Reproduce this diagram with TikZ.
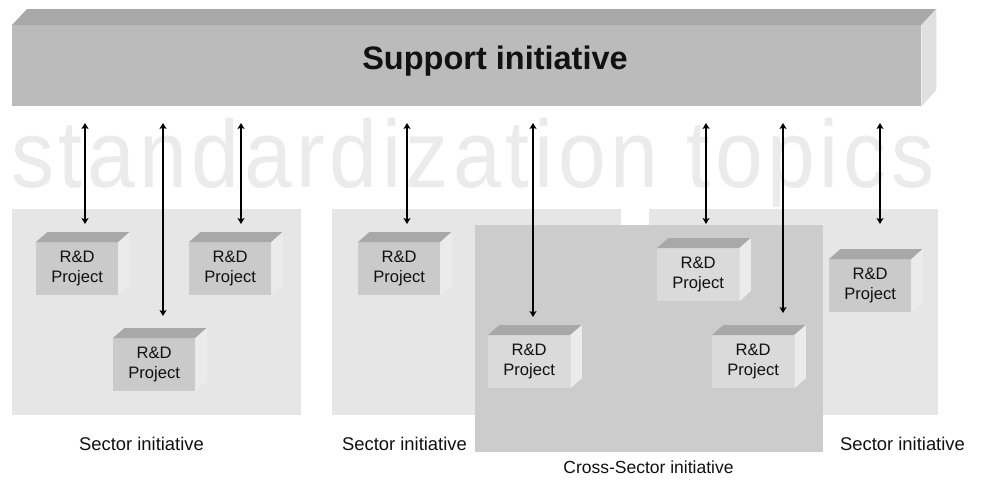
\documentclass[tikz,border=0pt]{standalone}
\usepackage{fontspec}
\setmainfont{Liberation Sans}
\newfontfamily\topicfont[FakeStretch=0.9,LetterSpace=4.8]{Liberation Sans}
\usetikzlibrary{arrows.meta}

\definecolor{barfront}{HTML}{BBBBBB}
\definecolor{bartop}{HTML}{A8A8A8}
\definecolor{barside}{HTML}{E0E0E0}
\definecolor{sectorbg}{HTML}{E6E6E6}
\definecolor{crossbg}{HTML}{CCCCCC}
\definecolor{cubefront}{HTML}{CACACA}
\definecolor{cubefrontlight}{HTML}{DADADA}
\definecolor{cubetop}{HTML}{A8A8A8}
\definecolor{cubeside}{HTML}{EBEBEB}
\definecolor{topicgray}{HTML}{EBEBEB}
\definecolor{ink}{HTML}{111111}

% one R&D cube: name, x, y of the front face's top-left corner, front colour
\newcommand\projcube[4]{%
  \node[projbox, fill=#4] (#1) at (#2,#3) {R\&D\\Project};
  \fill[cubetop] (#1.north west) -- ++(11.5,-10) -- ++(82,0) -- (#1.north east) -- cycle;
  \fill[cubeside] (#1.north east) -- ++(11.5,-10) -- ++(0,53) -- (#1.south east) -- cycle;
}

\begin{document}
\begin{tikzpicture}[x=1pt,y=-1pt,
  projbox/.style={anchor=north west, minimum width=82pt, minimum height=53pt,
    inner sep=0pt, align=center, text=ink, font=\fontsize{16.6}{20.5}\selectfont},
  area/.style={anchor=north west, inner sep=0pt},
  dblarrow/.style={line width=2pt,
    {Stealth[length=6pt,width=7pt,inset=1.5pt]}-{Stealth[length=6pt,width=7pt,inset=1.5pt]}},
  sectorlabel/.style={anchor=base, inner sep=0pt, text=ink, font=\fontsize{18.4}{22}\selectfont}
]
\useasboundingbox[fill=white] (0,0) rectangle (981,479);

% large background caption
\node[anchor=base west, inner sep=0pt, text=topicgray,
      font=\topicfont\fontsize{95.5}{96}\selectfont] (topics) at (11,187) {standardization topics};

% support initiative bar with its top and side faces
\node[area, minimum width=909pt, minimum height=81pt, fill=barfront] (bar) at (12,25) {};
\fill[bartop] (bar.north west) -- ++(15,-16) -- ++(909,0) -- (bar.north east) -- cycle;
\fill[barside] (bar.north east) -- ++(15,-16) -- ++(0,81) -- (bar.south east) -- cycle;
\node[anchor=base, inner sep=0pt, text=ink, font=\bfseries\fontsize{32.5}{39}\selectfont]
  (title) at (495,69) {Support initiative};

% sector areas and the cross-sector area
\node[area, minimum width=289pt, minimum height=206pt, fill=sectorbg] (s1) at (12,209) {};
\node[area, minimum width=289pt, minimum height=206pt, fill=sectorbg] (s2) at (332,209) {};
\node[area, minimum width=289pt, minimum height=206pt, fill=sectorbg] (s3) at (649,209) {};
\node[area, minimum width=348pt, minimum height=227pt, fill=crossbg] (cross) at (475,225) {};

% R&D projects
\projcube{p1}{36}{242}{cubefront}
\projcube{p2}{189}{242}{cubefront}
\projcube{p3}{113}{338}{cubefront}
\projcube{p4}{358}{242}{cubefront}
\projcube{c1}{488}{335}{cubefrontlight}
\projcube{c2}{657}{248}{cubefrontlight}
\projcube{c3}{712}{335}{cubefrontlight}
\projcube{p5}{829}{259}{cubefront}

% links between the support initiative and the projects
\foreach \i/\x/\y in {1/85/224, 2/163/316, 3/241/224, 4/407/224,
                      5/533/317, 6/706/224, 7/783/313, 8/880/224} {
  \coordinate (up\i) at (\x,123);
  \coordinate (dn\i) at (\x,\y);
  \draw[dblarrow] (up\i) -- (dn\i);
}

% captions
\node[sectorlabel] (l1) at (141.5,450) {Sector initiative};
\node[sectorlabel] (l2) at (404.5,450) {Sector initiative};
\node[sectorlabel] (l3) at (902.5,450) {Sector initiative};
\node[sectorlabel, font=\fontsize{17.5}{21}\selectfont] (lc) at (648.5,473) {Cross-Sector initiative};
\end{tikzpicture}
\end{document}
